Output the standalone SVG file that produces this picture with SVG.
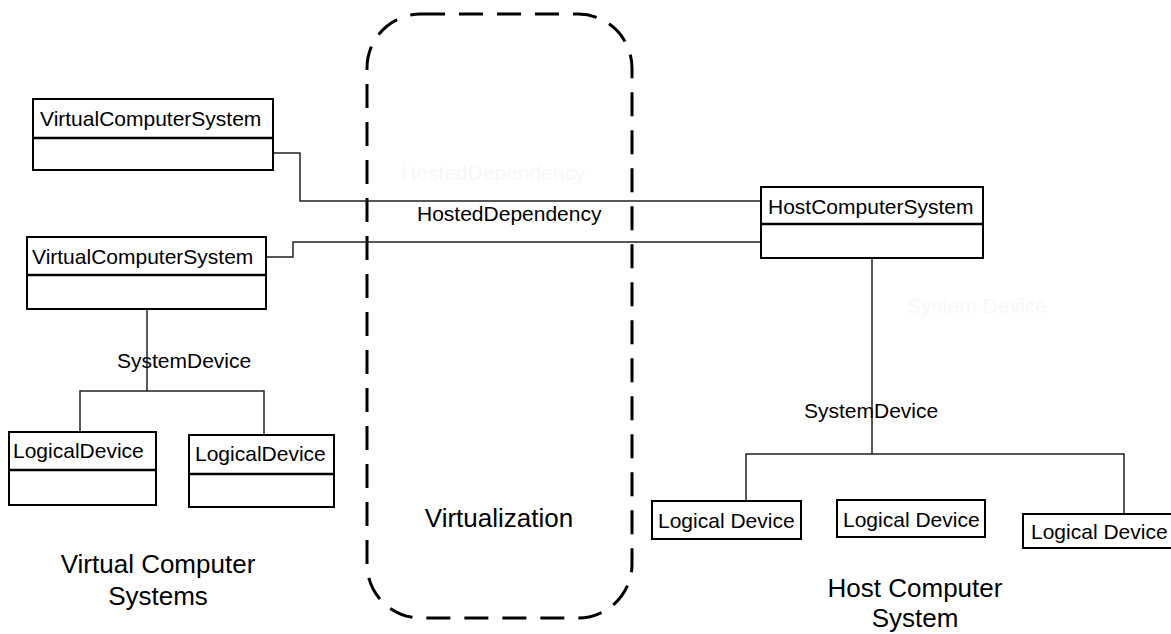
<svg xmlns="http://www.w3.org/2000/svg" width="1171" height="634" viewBox="0 0 1171 634">
<style>
.box{fill:#fff;stroke:#000;stroke-width:2}
.div{stroke:#000;stroke-width:2.5}
.t{font-family:"Liberation Sans",Arial,sans-serif;font-size:21px;fill:#000}
.big{font-family:"Liberation Sans",Arial,sans-serif;font-size:26px;fill:#000}
.ghost{font-family:"Liberation Sans",Arial,sans-serif;font-size:21px;fill:#f7f7f7}
.c{fill:none;stroke:#222;stroke-width:1.5}
</style>
<rect width="1171" height="634" fill="#fff"/>
<g id="virtualization">
<rect x="367" y="14" width="265" height="604" rx="54" ry="54" fill="none" stroke="#000" stroke-width="3" stroke-dasharray="24 14"/>
<text class="big" x="499" y="527" text-anchor="middle">Virtualization</text>
</g>
<g id="connectors">
<polyline class="c" points="273,153 300,153 300,201 765,201"/>
<polyline class="c" points="266,257 293,257 293,242 765,242"/>
<polyline class="c" points="147,309 147,391"/>
<polyline class="c" points="80,432 80,391 264,391 264,435"/>
<polyline class="c" points="872,258 872,454"/>
<polyline class="c" points="746,501 746,454 1124,454 1124,514"/>
<text class="t" x="417" y="221">HostedDependency</text>
<text class="ghost" x="401" y="180">HostedDependency</text>
<text class="t" x="117" y="368">SystemDevice</text>
<text class="t" x="804" y="418">SystemDevice</text>
<text class="ghost" x="907" y="313">System Device</text>
</g>
<g id="vcs1">
<rect class="box" x="33" y="99" width="240" height="71"/>
<line class="div" x1="33" y1="138" x2="273" y2="138"/>
<text class="t" x="40" y="126">VirtualComputerSystem</text>
</g>
<g id="vcs2">
<rect class="box" x="27" y="237" width="239" height="72"/>
<line class="div" x1="27" y1="275" x2="266" y2="275"/>
<text class="t" x="32" y="264">VirtualComputerSystem</text>
</g>
<g id="ld1">
<rect class="box" x="9" y="432" width="147" height="73"/>
<line class="div" x1="9" y1="470" x2="156" y2="470"/>
<text class="t" x="13" y="458">LogicalDevice</text>
</g>
<g id="ld2">
<rect class="box" x="189" y="435" width="145" height="72"/>
<line class="div" x1="189" y1="474" x2="334" y2="474"/>
<text class="t" x="195" y="461">LogicalDevice</text>
</g>
<g id="hcs">
<rect class="box" x="761" y="187" width="222" height="71"/>
<line class="div" x1="761" y1="224" x2="983" y2="224"/>
<text class="t" x="768" y="214">HostComputerSystem</text>
</g>
<g id="ld-a">
<rect class="box" x="652" y="501" width="149" height="38"/>
<text class="t" x="658" y="528">Logical Device</text>
</g>
<g id="ld-b">
<rect class="box" x="837" y="500" width="148" height="37"/>
<text class="t" x="843" y="527">Logical Device</text>
</g>
<g id="ld-c">
<rect class="box" x="1023" y="514" width="160" height="34"/>
<text class="t" x="1031" y="539">Logical Device</text>
</g>
<g id="labels">
<text class="big" x="158" y="573" text-anchor="middle">Virtual Computer</text>
<text class="big" x="158" y="605" text-anchor="middle">Systems</text>
<text class="big" x="915" y="597" text-anchor="middle">Host Computer</text>
<text class="big" x="915" y="627" text-anchor="middle">System</text>
</g>
</svg>
